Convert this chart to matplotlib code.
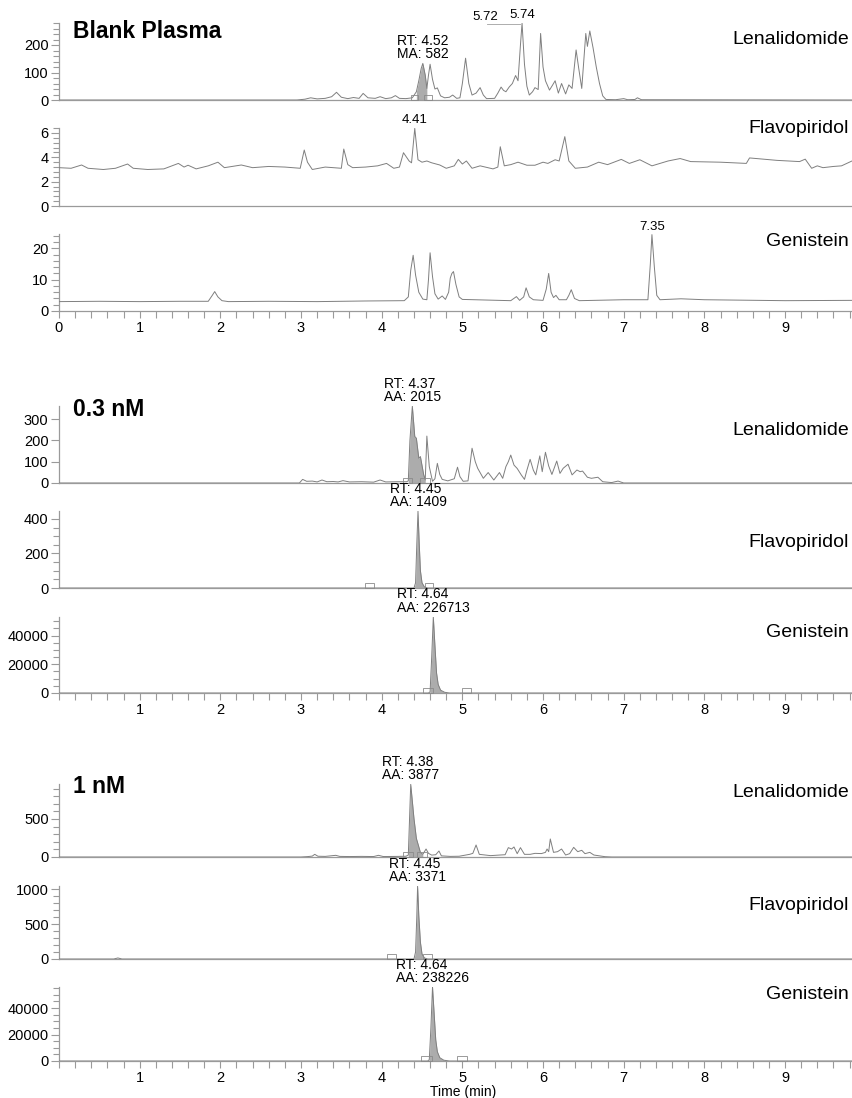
import numpy as np
import matplotlib
matplotlib.use("Agg")
import matplotlib.pyplot as plt
from matplotlib.ticker import MultipleLocator, NullLocator
from matplotlib.patches import Rectangle
from matplotlib.transforms import blended_transform_factory

plt.rcParams['font.family'] = ['Liberation Sans', 'DejaVu Sans']

# ---- data (time in min, intensity) ----
len_blank_t = [0.0, 2.95, 3.05, 3.12, 3.20, 3.30, 3.38, 3.44, 3.50, 3.58, 3.65, 3.72, 3.77, 3.83, 3.92,
               3.98, 4.05, 4.12, 4.17, 4.22, 4.30, 4.38, 4.43, 4.46, 4.49, 4.51, 4.54, 4.56, 4.58, 4.60,
               4.63, 4.66, 4.69, 4.73, 4.78, 4.84, 4.88, 4.93, 4.97, 5.00, 5.04, 5.08, 5.12, 5.17, 5.22,
               5.26, 5.30, 5.40, 5.44, 5.48, 5.51, 5.54, 5.58, 5.62, 5.66, 5.69, 5.72, 5.74, 5.77, 5.80,
               5.83, 5.87, 5.90, 5.94, 5.97, 6.00, 6.03, 6.08, 6.12, 6.15, 6.19, 6.23, 6.28, 6.32, 6.36,
               6.41, 6.44, 6.48, 6.53, 6.55, 6.58, 6.62, 6.66, 6.70, 6.74, 6.78, 6.90, 7.00, 7.05, 7.14,
               7.17, 7.22, 9.83]
len_blank_v = [0, 0, 3, 8, 4, 6, 12, 28, 10, 5, 9, 6, 24, 8, 6,
               12, 5, 8, 16, 6, 5, 8, 30, 70, 115, 133, 90, 42, 90, 130,
               75, 40, 44, 15, 8, 10, 18, 6, 8, 60, 152, 60, 18, 25, 45,
               18, 5, 6, 25, 47, 35, 30, 47, 60, 89, 70, 200, 279, 130, 50,
               18, 30, 45, 38, 242, 120, 70, 36, 55, 70, 25, 60, 22, 55, 42,
               182, 120, 42, 242, 195, 251, 190, 120, 60, 15, 2, 1, 5, 1, 2,
               8, 1, 0]

flav_blank_t = [0.0, 0.15, 0.28, 0.36, 0.55, 0.70, 0.85, 0.92, 1.10, 1.30, 1.48, 1.55, 1.60, 1.70, 1.85,
                1.97, 2.05, 2.26, 2.40, 2.60, 2.80, 2.99, 3.04, 3.08, 3.14, 3.30, 3.50, 3.53, 3.58, 3.64,
                3.80, 3.95, 4.06, 4.15, 4.22, 4.27, 4.34, 4.37, 4.41, 4.45, 4.50, 4.56, 4.62, 4.72, 4.80,
                4.90, 4.95, 5.00, 5.05, 5.12, 5.22, 5.38, 5.44, 5.47, 5.52, 5.60, 5.69, 5.80, 5.90, 6.00,
                6.06, 6.15, 6.20, 6.27, 6.32, 6.40, 6.55, 6.69, 6.80, 6.97, 7.07, 7.20, 7.35, 7.55, 7.70,
                7.83, 8.20, 8.52, 8.56, 8.90, 9.18, 9.25, 9.33, 9.40, 9.47, 9.60, 9.70, 9.83]
flav_blank_v = [3.15, 3.1, 3.37, 3.1, 3.0, 3.1, 3.45, 3.1, 3.0, 3.05, 3.5, 3.2, 3.35, 3.05, 3.3,
                3.6, 3.15, 3.37, 3.15, 3.25, 3.2, 3.1, 4.6, 3.6, 3.0, 3.2, 3.1, 4.68, 3.4, 3.15,
                3.2, 3.3, 3.5, 3.1, 3.2, 4.38, 3.7, 3.55, 6.38, 3.8, 3.6, 3.7, 3.55, 3.37, 3.1,
                3.3, 3.83, 3.45, 3.7, 3.1, 3.3, 3.05, 3.2, 4.87, 3.3, 3.4, 3.6, 3.35, 3.35, 3.6,
                3.5, 3.8, 3.7, 5.70, 3.7, 3.1, 3.2, 3.6, 3.4, 3.83, 3.5, 3.8, 3.3, 3.7, 3.9,
                3.65, 3.6, 3.5, 3.95, 3.75, 3.65, 3.85, 3.1, 3.3, 3.15, 3.25, 3.3, 3.7]

gen_blank_t = [0.0, 0.5, 1.0, 1.5, 1.85, 1.90, 1.93, 1.97, 2.02, 2.10, 2.6, 3.2, 3.8, 4.28, 4.33,
               4.36, 4.39, 4.42, 4.46, 4.51, 4.56, 4.58, 4.60, 4.63, 4.66, 4.70, 4.75, 4.79, 4.83, 4.85,
               4.87, 4.89, 4.92, 4.96, 5.00, 5.30, 5.60, 5.67, 5.71, 5.76, 5.79, 5.83, 5.88, 6.00, 6.04,
               6.07, 6.10, 6.13, 6.16, 6.20, 6.29, 6.32, 6.35, 6.39, 6.45, 7.00, 7.30, 7.33, 7.35, 7.38,
               7.41, 7.45, 7.71, 8.0, 9.0, 9.83]
gen_blank_v = [3.0, 3.1, 3.0, 3.1, 3.1, 5.0, 6.2, 4.5, 3.3, 3.0, 3.1, 3.0, 3.2, 3.3, 4.5,
               13, 17.8, 11.5, 6, 3.8, 3.6, 10, 18.6, 11, 5.5, 3.8, 4.8, 3.7, 6, 10.5,
               12.0, 12.6, 8.5, 4.5, 3.7, 3.5, 3.3, 4.6, 3.4, 4.5, 7.4, 4.5, 3.6, 3.4, 7,
               12.0, 6, 4.3, 5.0, 3.6, 3.6, 5, 6.8, 4.0, 3.3, 3.6, 3.6, 15, 24.4, 14,
               5, 3.6, 3.9, 3.6, 3.3, 3.4]

len_03_t = [0.0, 2.98, 3.02, 3.07, 3.14, 3.20, 3.26, 3.32, 3.40, 3.46, 3.52, 3.60, 3.75, 3.90, 3.98,
            4.05, 4.20, 4.31, 4.33, 4.35, 4.38, 4.41, 4.43, 4.46, 4.48, 4.52, 4.54, 4.56, 4.59, 4.63,
            4.66, 4.69, 4.72, 4.75, 4.82, 4.90, 4.94, 4.97, 5.01, 5.07, 5.10, 5.12, 5.16, 5.19, 5.26,
            5.32, 5.39, 5.46, 5.50, 5.54, 5.57, 5.60, 5.64, 5.68, 5.73, 5.77, 5.80, 5.84, 5.88, 5.91,
            5.96, 5.99, 6.03, 6.07, 6.11, 6.17, 6.21, 6.25, 6.31, 6.36, 6.42, 6.46, 6.49, 6.55, 6.60,
            6.68, 6.74, 6.85, 6.93, 7.00, 9.83]
len_03_v = [0, 0, 17, 8, 9, 5, 14, 6, 7, 5, 11, 5, 6, 4, 14,
            5, 6, 6, 10, 200, 360, 218, 210, 116, 124, 40, 14, 220, 77, 8,
            20, 92, 40, 17, 10, 20, 74, 30, 8, 10, 100, 163, 100, 69, 22,
            49, 14, 49, 22, 77, 100, 131, 84, 68, 38, 17, 60, 111, 60, 38,
            127, 53, 144, 80, 40, 103, 45, 69, 88, 38, 61, 53, 56, 27, 22,
            27, 6, 2, 9, 0, 0]

flav_03_t = [0.0, 4.40, 4.42, 4.435, 4.45, 4.465, 4.48, 4.50, 4.53, 4.57, 9.83]
flav_03_v = [0, 0, 30, 250, 445, 260, 100, 30, 6, 0, 0]

gen_03_t = [0.0, 4.58, 4.60, 4.62, 4.64, 4.66, 4.68, 4.70, 4.73, 4.78, 4.84, 9.83]
gen_03_v = [0, 0, 800, 25000, 53000, 33000, 14000, 6000, 2000, 500, 0, 0]

len_1_t = [0.0, 3.00, 3.08, 3.14, 3.17, 3.21, 3.30, 3.43, 3.48, 3.60, 3.75, 3.90, 3.96, 4.02, 4.20,
           4.30, 4.33, 4.36, 4.40, 4.43, 4.48, 4.51, 4.55, 4.58, 4.62, 4.67, 4.71, 4.74, 4.85, 4.96,
           5.09, 5.13, 5.17, 5.21, 5.35, 5.45, 5.53, 5.57, 5.61, 5.64, 5.68, 5.72, 5.77, 5.84, 5.90,
           5.98, 6.03, 6.05, 6.07, 6.09, 6.13, 6.18, 6.23, 6.28, 6.33, 6.38, 6.43, 6.48, 6.52, 6.58,
           6.63, 6.77, 6.85, 9.83]
len_1_v = [0, 0, 5, 12, 35, 10, 8, 22, 8, 6, 8, 6, 22, 6, 8,
           10, 25, 956, 508, 245, 61, 35, 105, 48, 25, 30, 79, 15, 8, 10,
           35, 48, 158, 35, 18, 25, 30, 123, 105, 132, 44, 123, 35, 35, 48,
           45, 61, 105, 70, 237, 61, 70, 105, 26, 44, 127, 70, 88, 44, 61,
           26, 4, 0, 0]

flav_1_t = [0.0, 0.68, 0.73, 0.78, 4.40, 4.42, 4.435, 4.445, 4.46, 4.48, 4.50, 4.53, 4.57, 9.83]
flav_1_v = [0, 0, 15, 0, 0, 100, 600, 1040, 620, 240, 70, 15, 0, 0]

gen_1_t = [0.0, 4.57, 4.59, 4.61, 4.63, 4.65, 4.67, 4.69, 4.72, 4.77, 4.84, 9.83]
gen_1_v = [0, 0, 1000, 25000, 55800, 36000, 16000, 7000, 2500, 600, 0, 0]

compounds = ['Lenalidomide', 'Flavopiridol', 'Genistein']
groups = ['Blank Plasma', '0.3 nM', '1 nM']

# per panel: (times, values, ymax, yticks, minor step, fill range, boxes, labels)
panels = [
    (len_blank_t, len_blank_v, 280, [0, 100, 200], 20, (4.43, 4.56),
     [(4.36, 4.45), (4.53, 4.62)], [(4.51, 133, 'RT: 4.52\nMA: 582'), (5.74, 279, '5.74')]),
    (flav_blank_t, flav_blank_v, 6.41, [0, 2, 4, 6], 0.4, None, [], [(4.41, 6.38, '4.41')]),
    (gen_blank_t, gen_blank_v, 24.6, [0, 10, 20], 2, None, [], [(7.35, 24.4, '7.35')]),
    (len_03_t, len_03_v, 361, [0, 100, 200, 300], None, (4.33, 4.54),
     [(4.27, 4.38), (4.47, 4.60)], [(4.38, 360, 'RT: 4.37\nAA: 2015')]),
    (flav_03_t, flav_03_v, 446, [0, 200, 400], 50, (4.40, 4.57),
     [(3.79, 3.90), (4.54, 4.64)], [(4.45, 445, 'RT: 4.45\nAA: 1409')]),
    (gen_03_t, gen_03_v, 53000, [0, 20000, 40000], 5000, (4.58, 4.84),
     [(4.51, 4.64), (4.99, 5.11)], [(4.64, 53000, 'RT: 4.64\nAA: 226713')]),
    (len_1_t, len_1_v, 960, [0, 500], 100, (4.33, 4.51),
     [(4.27, 4.39), (4.44, 4.56)], [(4.36, 956, 'RT: 4.38\nAA: 3877')]),
    (flav_1_t, flav_1_v, 1043, [0, 500, 1000], 100, (4.40, 4.57),
     [(4.06, 4.18), (4.51, 4.62)], [(4.445, 1040, 'RT: 4.45\nAA: 3371')]),
    (gen_1_t, gen_1_v, 55850, [0, 20000, 40000], 5000, (4.57, 4.84),
     [(4.49, 4.62), (4.93, 5.06)], [(4.63, 55800, 'RT: 4.64\nAA: 238226')]),
]

# pixel geometry (top, zero line) of each panel
W, H = 853, 1098
tops = [23, 128, 234, 406, 511, 617, 784, 886, 987]
bots = [100, 206, 311, 483, 588, 693, 857, 959, 1061]
name_y = [44, 133, 246, 435, 547, 637, 797, 910, 999]
title_y = [38, 416, 793]

line_c = '#7f7f7f'
axis_c = '#9a9a9a'

fig = plt.figure(figsize=(W / 100, H / 100), dpi=100)
x0, x1 = 59, 852
xmax = 9.83

for i, (t, v, ymax, yt, mstep, frange, boxes, labels) in enumerate(panels):
    ax = fig.add_axes([x0 / W, 1 - bots[i] / H, (x1 - x0) / W, (bots[i] - tops[i]) / H])
    t = np.array(t)
    v = np.array(v, dtype=float)
    if frange is not None:
        m = (t >= frange[0]) & (t <= frange[1])
        ax.fill_between(t[m], 0, v[m], color='#acacac', lw=0, zorder=2)
    ax.plot(t, v, color=line_c, lw=0.7, zorder=3)
    ax.set_xlim(0, xmax)
    ax.set_ylim(0, ymax)
    for s in ['top', 'right']:
        ax.spines[s].set_visible(False)
    for s in ['left', 'bottom']:
        ax.spines[s].set_color(axis_c)
        ax.spines[s].set_linewidth(0.9)
    ax.set_yticks(yt)
    ax.set_yticklabels([str(k) for k in yt])
    if mstep:
        ax.yaxis.set_minor_locator(MultipleLocator(mstep))
    else:
        ax.yaxis.set_minor_locator(NullLocator())
    ax.tick_params(axis='y', which='major', length=6, width=0.8, color=axis_c,
                   labelsize=10.5, pad=1.5)
    ax.tick_params(axis='y', which='minor', length=4, width=0.8, color=axis_c)
    if i % 3 == 2:
        xt = list(range(0, 10)) if i == 2 else list(range(1, 10))
        ax.set_xticks(xt)
        ax.set_xticklabels([str(k) for k in xt])
        ax.xaxis.set_minor_locator(MultipleLocator(0.2))
        ax.tick_params(axis='x', which='both', length=5, width=0.8, color=axis_c,
                       labelsize=10.5, pad=2)
    else:
        ax.tick_params(axis='x', which='both', bottom=False, labelbottom=False)

    tr = blended_transform_factory(ax.transData, ax.transAxes)
    for b0, b1 in boxes:
        ax.add_patch(Rectangle((b0, 0), b1 - b0, 0.065, transform=tr, fill=False,
                               ec='#8a8a8a', lw=0.6, zorder=4, clip_on=False))

    for pt, pv, txt in labels:
        fs = 10 if 'RT' in txt else 9.5
        ax.annotate(txt, xy=(pt, pv), xytext=(0, 1.5), textcoords='offset points',
                    ha='center', va='bottom', multialignment='left', fontsize=fs,
                    linespacing=0.95, annotation_clip=False, zorder=5)

    fig.text(849 / W, 1 - name_y[i] / H, compounds[i % 3], ha='right', va='baseline',
             fontsize=14)

# shifted label for the 5.72 apex with its leader line
ax1 = fig.axes[0]
ax1.plot([5.30, 5.72], [276, 276], color='#a0a0a0', lw=0.6, clip_on=False, zorder=4)
ax1.annotate('5.72', xy=(5.29, 276), xytext=(0, 0.5), textcoords='offset points',
             ha='center', va='bottom', fontsize=9.5, annotation_clip=False)

for g, name in enumerate(groups):
    fig.text(73 / W, 1 - title_y[g] / H, name, ha='left', va='baseline',
             fontsize=16.5, fontweight='bold')

fig.text(463 / W, 1 - 1096 / H, 'Time (min)', ha='center', va='baseline', fontsize=10)

fig.savefig('out.png', dpi=100)
